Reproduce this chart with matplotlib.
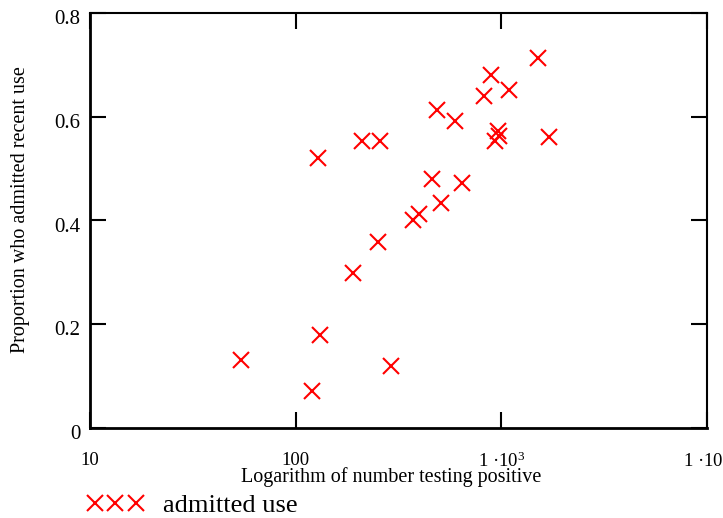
import numpy as np
import matplotlib
matplotlib.use("Agg")
import matplotlib.pyplot as plt
from matplotlib.lines import Line2D
import matplotlib.transforms as mtransforms

plt.rcParams["font.family"] = ["Liberation Serif", "DejaVu Serif"]
plt.rcParams["mathtext.fontset"] = "custom"
plt.rcParams["mathtext.rm"] = "Liberation Serif"
plt.rcParams["mathtext.it"] = "Liberation Serif"

# number testing positive vs proportion admitting recent use
n_positive = [54, 120, 131, 291, 129, 210, 258, 191, 252, 374, 400, 462,
              508, 643, 486, 598, 827, 892, 1095, 1515, 1708, 961, 979, 933]
prop_admit = [0.131, 0.072, 0.179, 0.119, 0.52, 0.552, 0.552, 0.299, 0.359,
              0.401, 0.412, 0.48, 0.433, 0.471, 0.613, 0.592, 0.64, 0.68,
              0.651, 0.712, 0.56, 0.573, 0.563, 0.552]

xticks = [10, 100, 1000, 10000]
xticklabels = ["10", "100", "1 \u00b710$^{3}$", "1 \u00b710$^{4}$"]
yticks = [0, 0.2, 0.4, 0.6, 0.8]
yticklabels = ["0", "0.2", "0.4", "0.6", "0.8"]

fig = plt.figure(figsize=(7.23, 5.18), dpi=100)
ax = fig.add_axes([0.1245, 0.1737, 0.853, 0.8018])

ax.plot(n_positive, prop_admit, "x", color="red", ms=11.5, mew=1.5)

ax.set_xscale("log")
ax.set_xlim(10, 10000)
ax.set_ylim(0, 0.8)
ax.set_xticks(xticks)
ax.set_xticklabels(xticklabels)
ax.xaxis.set_minor_locator(matplotlib.ticker.NullLocator())
ax.set_yticks(yticks)
ax.set_yticklabels(yticklabels)

ax.tick_params(axis="both", which="major", direction="in", length=11.5,
               width=1.5, top=True, right=True)
ax.tick_params(axis="x", pad=17, labelsize=13.5)
ax.tick_params(axis="y", pad=7, labelsize=15)
for sp in ax.spines.values():
    sp.set_linewidth(1.5)
ax.spines["left"].set_linewidth(2)
ax.spines["bottom"].set_linewidth(2)

# y labels sit slightly below their ticks in the original
off = mtransforms.ScaledTranslation(0, -3 / 72, fig.dpi_scale_trans)
for lab in ax.get_yticklabels():
    lab.set_transform(lab.get_transform() + off)

ax.set_xlabel("Logarithm of number testing positive", fontsize=14.5)
ax.xaxis.set_label_coords(0.488, -0.094)
ax.set_ylabel("Proportion who admitted recent use", fontsize=14.5)
ax.yaxis.set_label_coords(-0.097, 0.525)

h = Line2D([], [], ls="", marker="x", color="red", ms=11.5, mew=1.5)
fig.legend([h], ["admitted use"], loc="center left", numpoints=3,
           bbox_to_anchor=(0.121, 0.025), borderaxespad=0, borderpad=0,
           frameon=False, fontsize=19, handlelength=2.12, handletextpad=0.73)

fig.savefig("out.png", dpi=100)
